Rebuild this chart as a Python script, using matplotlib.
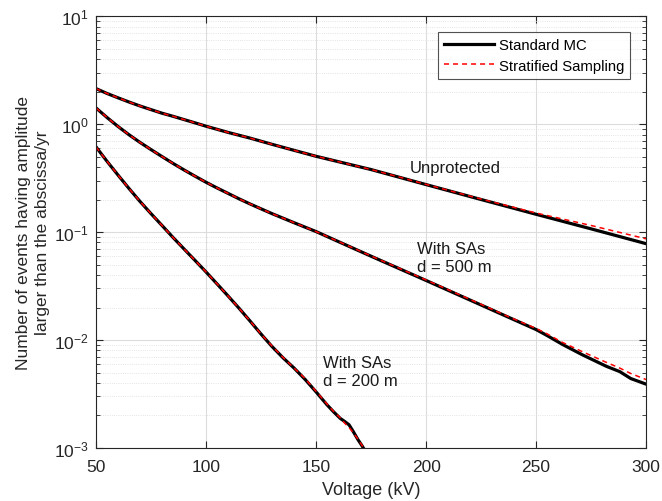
import numpy as np
import matplotlib
matplotlib.use('Agg')
import matplotlib.pyplot as plt
from matplotlib.ticker import LogLocator, NullFormatter, MultipleLocator

plt.rcParams['font.family'] = ['Liberation Sans', 'DejaVu Sans']
plt.rcParams['mathtext.fontset'] = 'custom'
plt.rcParams['mathtext.rm'] = 'Liberation Sans'

# Unprotected line
v_unp = [50, 55, 60, 65, 70, 75, 80, 85, 90, 95, 100, 110, 120, 130, 140, 150, 160, 175, 187, 200, 225, 250,
         275, 300]
mc_unp = [2.13, 1.92, 1.75, 1.60, 1.47, 1.36, 1.26, 1.18, 1.10, 1.026, 0.955, 0.837, 0.741, 0.649, 0.571, 0.503,
          0.449, 0.379, 0.325, 0.275, 0.200, 0.146, 0.107, 0.078]
ss_unp = [2.13, 1.92, 1.75, 1.60, 1.47, 1.36, 1.26, 1.18, 1.10, 1.026, 0.955, 0.837, 0.741, 0.649, 0.571, 0.503,
          0.449, 0.379, 0.326, 0.276, 0.202, 0.150, 0.115, 0.0865]

# With SAs, d = 500 m
v_500 = [50, 55, 60, 65, 70, 75, 80, 85, 90, 95, 100, 105, 110, 115, 120, 125, 130, 140, 150, 160, 175, 200,
         225, 237, 250, 255, 262, 271, 282, 288, 293, 300]
mc_500 = [1.41, 1.15, 0.95, 0.796, 0.676, 0.58, 0.50, 0.432, 0.376, 0.329, 0.289, 0.256, 0.228, 0.203, 0.182,
          0.164, 0.148, 0.122, 0.101, 0.0818, 0.0597, 0.0356, 0.0211, 0.0164, 0.0125, 0.0110, 0.0091, 0.0073,
          0.0057, 0.0051, 0.0044, 0.0039]
ss_500 = [1.41, 1.15, 0.95, 0.796, 0.676, 0.58, 0.50, 0.432, 0.376, 0.329, 0.289, 0.256, 0.228, 0.203, 0.182,
          0.164, 0.148, 0.122, 0.101, 0.0820, 0.0600, 0.0360, 0.0214, 0.0166, 0.0128, 0.0114, 0.0095, 0.0078,
          0.0062, 0.0055, 0.0049, 0.0043]

# With SAs, d = 200 m
v_200 = [50, 55, 60, 65, 70, 75, 80, 85, 90, 95, 100, 105, 110, 115, 120, 125, 130, 135, 140, 145, 150, 155,
         158, 161, 163, 165, 167, 169, 171, 173]
mc_200 = [0.615, 0.452, 0.337, 0.253, 0.192, 0.148, 0.115, 0.0891, 0.0697, 0.0546, 0.0427, 0.0331, 0.0256,
          0.0197, 0.015, 0.01135, 0.0087, 0.00684, 0.0055, 0.00432, 0.00331, 0.00251, 0.00216, 0.00188,
          0.00176, 0.00164, 0.00141, 0.0012, 0.00104, 0.00089]
ss_200 = [0.615, 0.452, 0.337, 0.253, 0.192, 0.148, 0.115, 0.0891, 0.0697, 0.0546, 0.0427, 0.0331, 0.0256,
          0.0197, 0.015, 0.01135, 0.0088, 0.0069, 0.0055, 0.0044, 0.00335, 0.00255, 0.00218, 0.0019,
          0.0017, 0.00155, 0.00138, 0.00121, 0.00105, 0.0009]

fig = plt.figure(figsize=(6.62, 5.02), dpi=100)
ax = fig.add_axes([0.145, 0.1056, 0.831, 0.8604])

for v, mc, ss in [(v_unp, mc_unp, ss_unp), (v_500, mc_500, ss_500), (v_200, mc_200, ss_200)]:
    ax.plot(v, mc, color='black', lw=2.3, solid_joinstyle='round',
            label='Standard MC' if v is v_unp else None)
    ax.plot(v, ss, color='red', lw=1.1, ls=(0, (3.3, 2.6)),
            label='Stratified Sampling' if v is v_unp else None)

ax.set_yscale('log')
ax.set_xlim(50, 300)
ax.set_ylim(1e-3, 1e1)
ax.xaxis.set_major_locator(MultipleLocator(50))
ax.yaxis.set_major_locator(LogLocator(base=10, numticks=10))
ax.yaxis.set_minor_locator(LogLocator(base=10, subs=np.arange(2, 10), numticks=10))
ax.yaxis.set_minor_formatter(NullFormatter())

ax.grid(True, which='major', color='#dcdcdc', lw=0.8)
ax.grid(True, which='minor', axis='y', color='#dcdcdc', lw=0.6, ls=':')
ax.set_axisbelow(True)
ax.tick_params(which='both', direction='in', top=True, right=True, labelsize=12.5, colors='#262626')
ax.tick_params(which='major', length=5)
ax.tick_params(which='minor', length=3)
ax.tick_params(axis='x', pad=8)
ax.tick_params(axis='y', pad=5)
for s in ax.spines.values():
    s.set_color('#262626')
    s.set_linewidth(0.8)

ax.set_xlabel('Voltage (kV)', fontsize=13, color='#262626', labelpad=5)
ax.set_ylabel('Number of events having amplitude\nlarger than the abscissa/yr', fontsize=12.5,
              color='#262626', labelpad=3, linespacing=1.35)

ax.text(192.5, 0.40, 'Unprotected', fontsize=12, va='center', ha='left', color='#1a1a1a')
ax.text(196, 0.058, 'With SAs\nd = 500 m', fontsize=12, va='center', ha='left', color='#1a1a1a', linespacing=1.3)
ax.text(153, 0.0051, 'With SAs\nd = 200 m', fontsize=12, va='center', ha='left', color='#1a1a1a', linespacing=1.3)

leg = ax.legend(loc='upper right', bbox_to_anchor=(0.971, 0.963), fontsize=10.7, frameon=True, fancybox=False,
                edgecolor='#262626', handlelength=3.4, borderpad=0.4, labelspacing=0.45, handletextpad=0.3,
                borderaxespad=0)
leg.get_frame().set_linewidth(0.8)

fig.savefig('out.png', dpi=100)
